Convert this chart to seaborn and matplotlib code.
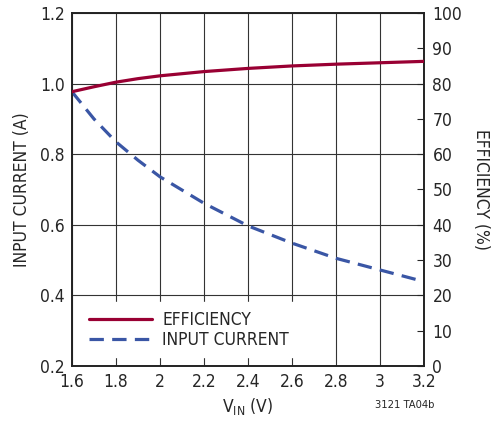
import numpy as np
import pandas as pd
import seaborn as sns
import matplotlib.pyplot as plt
from matplotlib.ticker import FuncFormatter, MultipleLocator

vin = [1.6, 1.7, 1.8, 1.9, 2.0, 2.2, 2.4, 2.6, 2.8, 3.0, 3.2]
efficiency = [77.7, 79.1, 80.4, 81.4, 82.2, 83.4, 84.3, 85.0, 85.5, 85.9, 86.3]
input_current = [0.977, 0.900, 0.835, 0.783, 0.736, 0.661, 0.597, 0.548, 0.505, 0.472, 0.439]

sns.set_style("white")
plt.rcParams['font.family'] = ['DejaVu Sans']
plt.rcParams['font.stretch'] = 'condensed'
plt.rcParams['mathtext.fontset'] = 'custom'
plt.rcParams['mathtext.rm'] = 'DejaVu Sans:stretch=condensed'

red = '#990033'
blue = '#3a56a5'
dash = [4.5, 2.6]

df = pd.DataFrame({'vin': vin, 'eff': efficiency, 'cur': input_current})

fig = plt.figure(figsize=(4.96, 4.36), dpi=100)
ax = fig.add_axes([0.145, 0.1606, 0.710, 0.8096])
ax2 = ax.twinx()

sns.lineplot(data=df, x='vin', y='cur', ax=ax, color=blue, lw=2.3,
             dashes=False, zorder=3)
ax.lines[0].set_dashes(dash)
sns.lineplot(data=df, x='vin', y='eff', ax=ax2, color=red, lw=2.3, zorder=3)

ax.set_xlim(1.6, 3.2)
ax.set_ylim(0.2, 1.2)
ax2.set_ylim(0, 100)

ax.xaxis.set_major_locator(MultipleLocator(0.2))
ax.yaxis.set_major_locator(MultipleLocator(0.2))
ax2.yaxis.set_major_locator(MultipleLocator(10))
ax.xaxis.set_major_formatter(FuncFormatter(lambda v, p: '%g' % round(v, 2)))
ax.yaxis.set_major_formatter(FuncFormatter(lambda v, p: '%.1f' % v))
ax2.yaxis.set_major_formatter(FuncFormatter(lambda v, p: '%d' % round(v)))

ax.grid(True, color='#333333', lw=0.8)
ax.set_axisbelow(True)
ax.tick_params(axis='both', length=0, labelsize=12.5, pad=5)
ax2.tick_params(axis='y', direction='in', length=5, width=0.8, labelsize=12.5, pad=6)

for a in (ax, ax2):
    for s in a.spines.values():
        s.set_color('#222222')
        s.set_linewidth(1.2)

ax.set_xlabel(r'V$_{\mathrm{IN}}$ (V)', fontsize=12.5, labelpad=4)
ax.set_ylabel('INPUT CURRENT (A)', fontsize=12.5, labelpad=7)
ax2.set_ylabel('EFFICIENCY (%)', fontsize=12.5, rotation=270, labelpad=20)

h1 = plt.Line2D([], [], color=red, lw=2.3)
h2 = plt.Line2D([], [], color=blue, lw=2.3, dashes=dash)
leg = ax2.legend([h1, h2], ['EFFICIENCY', 'INPUT CURRENT'], loc='lower left',
                 bbox_to_anchor=(0.0, 0.0), frameon=True, fontsize=12.5,
                 handlelength=3.6, handletextpad=0.6, labelspacing=0.1,
                 borderpad=0.5, fancybox=False)
leg.get_frame().set_facecolor('white')
leg.get_frame().set_edgecolor('white')
leg.get_frame().set_alpha(1)

fig.text(0.756, 0.065, '3121 TA04b', fontsize=8)

fig.savefig('out.png', dpi=100)
